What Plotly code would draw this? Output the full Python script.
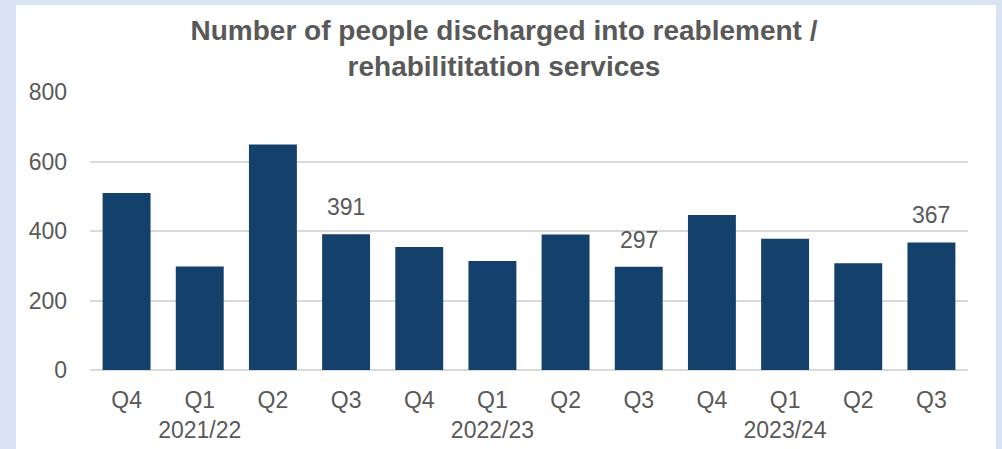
import plotly.graph_objects as go

quarters = ["Q4", "Q1", "Q2", "Q3", "Q4", "Q1", "Q2", "Q3", "Q4", "Q1", "Q2", "Q3"]
years = ["", "2021/22", "", "", "", "2022/23", "", "", "", "2023/24", "", ""]
values = [509, 298, 649, 391, 354, 314, 390, 297, 446, 378, 307, 367]
show_label = [False, False, False, True, False, False, False, True, False, False, False, True]
y_ticks = [0, 200, 400, 600, 800]

title_text = "Number of people discharged into reablement /<br>rehabilititation services"

FONT = "Liberation Sans"
GREY = "#595959"
BAR = "#13416b"

x_pos = list(range(len(values)))
ticktext = [q + ("<br>" + y if y else "") for q, y in zip(quarters, years)]

fig = go.Figure()
fig.add_trace(go.Bar(
    x=x_pos, y=values,
    marker=dict(color=BAR, line=dict(width=0)),
    hoverinfo="x+y",
))

annotations = []
for xi, v, s in zip(x_pos, values, show_label):
    if s:
        annotations.append(dict(
            x=xi, y=v, xref="x", yref="y", text=str(v), showarrow=False,
            yanchor="bottom", xanchor="center", yshift=12,
            font=dict(family=FONT, size=23, color=GREY),
        ))

L, R, T, B = 90, 34, 92, 79
W, H = 1002, 449
pw = W - L - R
ph = H - T - B

fig.add_shape(
    type="rect", xref="paper", yref="paper", layer="below",
    x0=(16 - L) / pw, x1=(996 - L) / pw,
    y0=-(B + 10) / ph, y1=(H - B - 5) / ph,
    fillcolor="white", line=dict(width=0),
)

fig.update_layout(
    width=W, height=H,
    margin=dict(l=L, r=R, t=T, b=B, autoexpand=False),
    paper_bgcolor="#dae3f3",
    plot_bgcolor="rgba(0,0,0,0)",
    showlegend=False,
    bargap=0.345,
    font=dict(family=FONT, size=23, color=GREY),
    title=dict(
        text=title_text,
        x=504 / W, xanchor="center",
        y=1 - 40 / H, yanchor="top",
        font=dict(family=FONT, size=28, color=GREY, weight="bold"),
    ),
    annotations=annotations,
    xaxis=dict(
        tickmode="array", tickvals=x_pos, ticktext=ticktext,
        range=[-0.5, len(values) - 0.5],
        showgrid=False, showline=False, zeroline=False,
        ticks="", ticklabelstandoff=14, automargin=False,
        tickfont=dict(family=FONT, size=23, color=GREY),
    ),
    yaxis=dict(
        range=[0, 800], tickmode="array", tickvals=y_ticks,
        showgrid=True, gridcolor="#d9d9d9", gridwidth=2,
        zeroline=True, zerolinecolor="#d9d9d9", zerolinewidth=2,
        showline=False, ticks="", ticklabelstandoff=22, automargin=False,
        tickfont=dict(family=FONT, size=23, color=GREY),
    ),
)

fig.write_html(
    "out.html",
    config={"displayModeBar": False},
    post_script="document.body.style.margin='0';document.body.style.overflow='hidden';",
)
